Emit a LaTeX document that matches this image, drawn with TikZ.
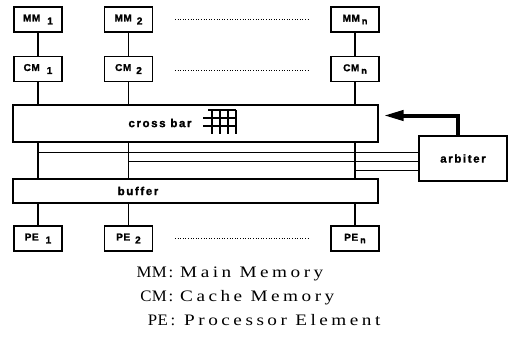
\documentclass[tikz,border=0pt]{standalone}
\usepackage{fontspec}
\setmainfont{Liberation Serif}
\newfontfamily\boxfont{Liberation Sans Bold}[LetterSpace=6, FakeBold=1.5]
\newfontfamily\bigfont{Liberation Sans Bold}[LetterSpace=14, FakeBold=1.5]
\newfontfamily\legfont{Liberation Serif}[FakeStretch=1.2, LetterSpace=22]
\newfontfamily\legabbr{Liberation Serif}[FakeStretch=1.05, LetterSpace=2]
\usetikzlibrary{arrows.meta}
\newcommand{\subl}[1]{\raisebox{-3pt}{#1}}
\newcommand{\subn}{\raisebox{-2.5pt}{\fontsize{9}{9}\selectfont n}}
\begin{document}
\begin{tikzpicture}[x=1pt,y=-1pt,
  box/.style={draw, line width=1.3pt, inner sep=0pt, minimum width=48pt, minimum height=25pt,
     font=\boxfont\fontsize{10}{10}\selectfont},
  bar/.style={draw, line width=1.3pt, inner sep=0pt, minimum width=365pt},
  biglab/.style={inner sep=0pt, font=\bigfont\fontsize{11.5}{11.5}\selectfont},
  conn/.style={line width=1.3pt},
  hline/.style={line width=1pt},
  dots/.style={line width=0.9pt, dash pattern=on 1pt off 1.6pt},
  leg/.style={inner sep=0pt, font=\legfont\fontsize{16}{16}\selectfont},
  legab/.style={inner sep=0pt, font=\legabbr\fontsize{16}{16}\selectfont},
  bigarrow/.style={line width=4pt, line join=miter, -{Triangle[length=20pt,width=10pt]}}]
\useasboundingbox (0,0) rectangle (511,337);

% memory row
\node[box] (mm1) at (38,19.5) {MM\hspace{7pt}\subl{1}};
\node[box] (mm2) at (128.5,19.5) {MM\hspace{5pt}\subl{2}};
\node[box] (mmn) at (355,19.5) {MM\hspace{2pt}\subn};
% cache row
\node[box] (cm1) at (38,69) {CM\hspace{7pt}\subl{1}};
\node[box] (cm2) at (128.5,69) {CM\hspace{5pt}\subl{2}};
\node[box] (cmn) at (355,69) {CM\hspace{2pt}\subn};
% PE row
\node[box] (pe1) at (38,238.5) {PE\hspace{7pt}\subl{1}};
\node[box] (pe2) at (128.5,238.5) {PE\hspace{5pt}\subl{2}};
\node[box] (pen) at (355,238.5) {PE\hspace{2pt}\subn};

% cross bar and buffer
\node[bar, minimum height=37pt] (cb) at (195.5,123.5) {};
\node[biglab] (cbt) at (160,123) {cross bar};
\node[bar, minimum height=24pt] (buf) at (195.5,191) {};
\node[biglab] (buft) at (138,191) {buffer};

% arbiter
\node[draw, line width=1.3pt, inner sep=0pt, minimum width=88pt, minimum height=45pt,
      font=\bigfont\fontsize{11.5}{11.5}\selectfont] (arb) at (463,158.5) {arbiter};

% grid symbol
\draw[line width=1.2pt] (208,110) -- (236,110);
\draw[line width=1.2pt] (203,118) -- (236,118);
\draw[line width=1.2pt] (203,126) -- (236,126);
\foreach \gx in {212,220,228,236}
  \draw[line width=1.2pt] (\gx,110) -- (\gx,134);

% vertical connectors
\foreach \c in {1,2,n} {
  \draw[conn] (mm\c) -- (cm\c);
  \draw[conn] (cm\c) -- (cm\c.south |- cb.north);
  \draw[conn] (cb.south -| pe\c) -- (buf.north -| pe\c);
  \draw[conn] (buf.south -| pe\c) -- (pe\c);
}

% lines to arbiter
\coordinate (h1) at (38,152);
\coordinate (h2) at (128.5,161);
\coordinate (h3) at (355,170);
\draw[hline] (h1) -- (h1 -| arb.west);
\draw[hline] (h2) -- (h2 -| arb.west);
\draw[hline] (h3) -- (h3 -| arb.west);

% arrow from arbiter to cross bar
\draw[bigarrow] ([xshift=-5pt]arb.north) |- ([xshift=5pt,yshift=8pt]cb.east);

% dotted continuation lines
\coordinate (d1a) at (175,19);  \coordinate (d1b) at (308,19);
\coordinate (d2a) at (175,70);  \coordinate (d2b) at (308,70);
\coordinate (d3a) at (175,238); \coordinate (d3b) at (308,238);
\draw[dots] (d1a) -- (d1b);
\draw[dots] (d2a) -- (d2b);
\draw[dots] (d3a) -- (d3b);

% legend
\node[legab, anchor=base east] (lmm) at (167,277) {MM};
\node[legab, anchor=base] (lmmc) at (171,277) {:};
\node[leg, anchor=base west] (lmmt) at (180,277) {Main Memory};
\node[legab, anchor=base east] (lcm) at (167,301) {CM};
\node[legab, anchor=base] (lcmc) at (171,301) {:};
\node[leg, anchor=base west] (lcmt) at (180,301) {Cache Memory};
\node[legab, anchor=base east] (lpe) at (168,325) {PE};
\node[legab, anchor=base] (lpec) at (173,325) {:};
\node[leg, anchor=base west] (lpet) at (184,325) {Processor Element};
\end{tikzpicture}
\end{document}
